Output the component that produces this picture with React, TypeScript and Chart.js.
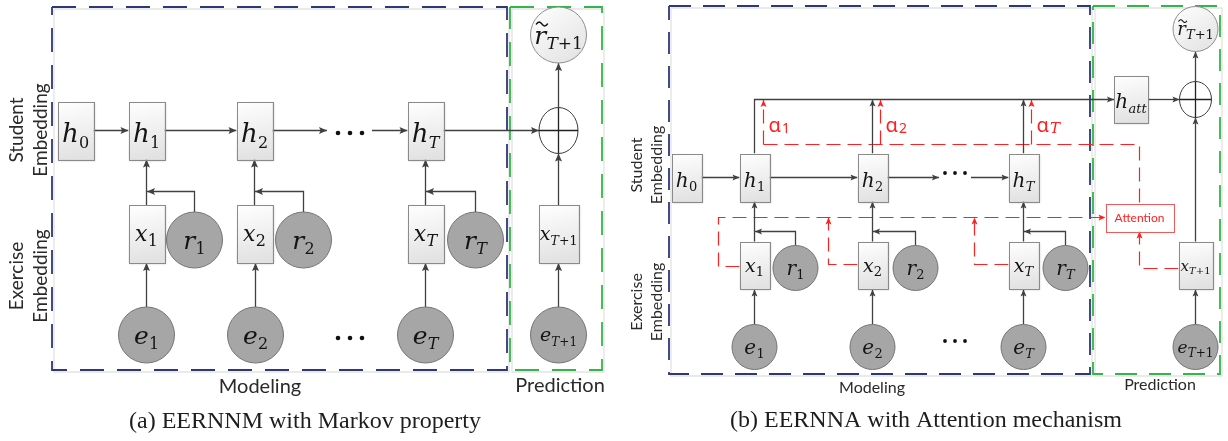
import { useEffect, useRef } from 'react';
import { Chart, registerables } from 'chart.js';

Chart.register(...registerables);

const CW = 1228;
const CH = 441;

// ================= Panel (a) EERNNM : node positions (data units) =================
const aHiddenX = [75.5, 146.5, 254.5, 425.5];
const aHiddenSub = ['0', '1', '2', 'T'];
const aHiddenY = 130.5;
const aExerX = [146.5, 254.5, 425.5, 558.5];
const aExerSub = ['1', '2', 'T', 'T+1'];
const aExerY = 234;
const aRespX = [194.5, 303.5, 475.5];
const aRespSub = ['1', '2', 'T'];
const aRespY = 240;
const aEmbX = [146.5, 255.5, 425.5, 558.5];
const aEmbSub = ['1', '2', 'T', 'T+1'];
const aEmbY = 335;
const aSumXY = [558.5, 130.5];
const aOutXY = [558.5, 35];
const aElbowY = 191.5;
const aDotsX = [338, 350, 362];
const aDotsY = [133, 338];
const aModelFrame = [52, 7, 507, 370];
const aPredFrame = [510, 7, 602, 370];

// ================= Panel (b) EERNNA =================
const bHiddenX = [686.5, 754.5, 872.5, 1023.5];
const bHiddenSub = ['0', '1', '2', 'T'];
const bHiddenY = 177.5;
const bExerX = [754.5, 872.5, 1023.5, 1195.5];
const bExerSub = ['1', '2', 'T', 'T+1'];
const bExerY = 265.5;
const bRespX = [795.5, 915.5, 1065.5];
const bRespSub = ['1', '2', 'T'];
const bRespY = 268;
const bEmbX = [754.5, 872.5, 1023.5, 1195.5];
const bEmbSub = ['1', '2', 'T', 'T+1'];
const bEmbY = 347;
const bSumXY = [1195.5, 99.5];
const bOutXY = [1195.5, 29];
const bAttXY = [1131, 99];
const bAttnXY = [1139.5, 217.5];
const bTopY = 99.5;
const bElbowY = 231.5;
const bAlphaX = [763.5, 880.5, 1031.5];
const bAlphaSub = ['1', '2', 'T'];
const bAlphaY = 144.5;
const bFeedX = [718.5, 828.5, 974.5];
const bFeedY = [266.5, 264.5, 264.5];
const bFeedLastY = 268.5;
const bDotsX = [945, 955, 965];
const bDotsY = [173, 341];
const bModelFrame = [669, 6, 1090, 374];
const bPredFrame = [1093, 6, 1220, 374];

// ================= sizes / styles =================
const GA = { bw: 36, bh: 58, bwLast: 40, r: 28, sumRx: 19.5, sumRy: 23, head: [8, 3.5], dot: 2.3, dash: [24, 13] };
const GB = { bw: 30, bh: 48, bwLast: 34, r: 22.5, sumRx: 16, sumRy: 18, head: [7, 3], dot: 1.9, dash: [22, 12] };
// label font sizes [main, subscript]
const FA = { h: [26, 16], x: [22, 16], xLast: [19, 12.5], r: [25, 16], e: [25, 16], eLast: [19, 12], out: [25, 17] };
const FB = { h: [20, 13], x: [19, 13], xLast: [15, 10], r: [20, 13], e: [20, 13], eLast: [17, 12], out: [18, 13], att: [20, 13] };
const INK = '#404040';
const RED = '#ff2020';
const BLUE = '#2f3876';
const GREEN = '#35b44c';
const MATH = '"DejaVu Serif", "Liberation Serif", serif';
const SANS = 'Lato, "Open Sans", sans-serif';

type Conn = { pts: number[][]; color: string; width: number; dash: number[]; arrow: boolean; head: number[] };
const conns: Conn[] = [];
const solid = (pts: number[][], g: any, arrow = true) => conns.push({ pts, color: INK, width: 1.3, dash: [], arrow, head: g.head });
const red = (pts: number[][], arrow = true) => conns.push({ pts, color: RED, width: 1.2, dash: [14, 7], arrow, head: [7, 3] });

// ---- panel (a) connections
solid([[aHiddenX[0] + GA.bw / 2, aHiddenY], [aHiddenX[1] - GA.bw / 2, aHiddenY]], GA);
solid([[aHiddenX[1] + GA.bw / 2, aHiddenY], [aHiddenX[2] - GA.bw / 2, aHiddenY]], GA);
solid([[aHiddenX[2] + GA.bw / 2, aHiddenY], [aDotsX[0] - 11, aHiddenY]], GA);
solid([[aDotsX[2] + 10, aHiddenY], [aHiddenX[3] - GA.bw / 2, aHiddenY]], GA);
solid([[aHiddenX[3] + GA.bw / 2, aHiddenY], [aSumXY[0] - GA.sumRx, aHiddenY]], GA);
solid([[aSumXY[0], aSumXY[1] - GA.sumRy], [aOutXY[0], aOutXY[1] + GA.r]], GA);
solid([[aExerX[3], aExerY - GA.bh / 2], [aSumXY[0], aSumXY[1] + GA.sumRy]], GA);
for (let i = 0; i < 3; i++) {
  solid([[aExerX[i], aExerY - GA.bh / 2], [aExerX[i], aHiddenY + GA.bh / 2]], GA);
  solid([[aRespX[i], aRespY - GA.r], [aRespX[i], aElbowY], [aExerX[i] + 0.5, aElbowY]], GA);
}
for (let i = 0; i < 4; i++) solid([[aEmbX[i], aEmbY - GA.r], [aEmbX[i], aExerY + GA.bh / 2]], GA);

// ---- panel (b) connections
solid([[bHiddenX[0] + GB.bw / 2, bHiddenY], [bHiddenX[1] - GB.bw / 2, bHiddenY]], GB);
solid([[bHiddenX[1] + GB.bw / 2, bHiddenY], [bHiddenX[2] - GB.bw / 2, bHiddenY]], GB);
solid([[bHiddenX[2] + GB.bw / 2, bHiddenY], [bDotsX[0] - 6, bHiddenY]], GB);
solid([[bDotsX[2] + 6, bHiddenY], [bHiddenX[3] - GB.bw / 2, bHiddenY]], GB);
solid([[bHiddenX[1], bHiddenY - GB.bh / 2], [bHiddenX[1], bTopY], [bAttXY[0] - 17, bTopY]], GB);
solid([[bHiddenX[2], bHiddenY - GB.bh / 2], [bHiddenX[2], bTopY]], GB);
solid([[bHiddenX[3], bHiddenY - GB.bh / 2], [bHiddenX[3], bTopY]], GB);
solid([[bAttXY[0] + 17, bTopY], [bSumXY[0] - GB.sumRx, bTopY]], GB);
solid([[bSumXY[0], bSumXY[1] - GB.sumRy], [bOutXY[0], bOutXY[1] + GB.r]], GB);
solid([[bExerX[3], bExerY - GB.bh / 2], [bSumXY[0], bSumXY[1] + GB.sumRy]], GB);
for (let i = 0; i < 3; i++) {
  solid([[bExerX[i], bExerY - GB.bh / 2], [bExerX[i], bHiddenY + GB.bh / 2]], GB);
  solid([[bRespX[i], bRespY - GB.r], [bRespX[i], bElbowY], [bExerX[i] + 0.5, bElbowY]], GB);
}
for (let i = 0; i < 4; i++) solid([[bEmbX[i], bEmbY - GB.r], [bEmbX[i], bExerY + GB.bh / 2]], GB);

// ---- panel (b) attention (red dashed)
for (let i = 0; i < 3; i++) red([[bAlphaX[i], bAlphaY], [bAlphaX[i], bTopY + 0.5]]);
red([[bAlphaX[0], bAlphaY], [bAttnXY[0], bAlphaY], [bAttnXY[0], bAttnXY[1] - 14]], false);
red([[bExerX[0] - GB.bw / 2, bFeedY[0]], [bFeedX[0], bFeedY[0]], [bFeedX[0], bAttnXY[1]], [bAttnXY[0] - 34, bAttnXY[1]]]);
red([[bExerX[1] - GB.bw / 2, bFeedY[1]], [bFeedX[1], bFeedY[1]], [bFeedX[1], bAttnXY[1]]]);
red([[bExerX[2] - GB.bw / 2, bFeedY[2]], [bFeedX[2], bFeedY[2]], [bFeedX[2], bAttnXY[1]]]);
red([[bExerX[3] - GB.bwLast / 2, bFeedLastY], [bAttnXY[0], bFeedLastY], [bAttnXY[0], bAttnXY[1] + 14]]);

// ================= boxes & labels =================
type BoxN = { x: number; y: number; w: number; h: number; main: string; sub: string; f: number[] };
const boxes: BoxN[] = [];
aHiddenX.forEach((x, i) => boxes.push({ x, y: aHiddenY, w: GA.bw, h: GA.bh, main: 'h', sub: aHiddenSub[i], f: FA.h }));
aExerX.forEach((x, i) => boxes.push({ x, y: aExerY, w: i === 3 ? GA.bwLast : GA.bw, h: GA.bh, main: 'x', sub: aExerSub[i], f: i === 3 ? FA.xLast : FA.x }));
bHiddenX.forEach((x, i) => boxes.push({ x, y: bHiddenY, w: GB.bw, h: GB.bh, main: 'h', sub: bHiddenSub[i], f: FB.h }));
bExerX.forEach((x, i) => boxes.push({ x, y: bExerY, w: i === 3 ? GB.bwLast : GB.bw, h: 47, main: 'x', sub: bExerSub[i], f: i === 3 ? FB.xLast : FB.x }));
boxes.push({ x: bAttXY[0], y: bAttXY[1], w: 34, h: 47, main: 'h', sub: 'att', f: FB.att });

type CircN = { x: number; y: number; r: number; main: string; sub: string; f: number[] };
const circles: CircN[] = [];
aRespX.forEach((x, i) => circles.push({ x, y: aRespY, r: GA.r, main: 'r', sub: aRespSub[i], f: FA.r }));
aEmbX.forEach((x, i) => circles.push({ x, y: aEmbY, r: GA.r, main: 'e', sub: aEmbSub[i], f: i === 3 ? FA.eLast : FA.e }));
bRespX.forEach((x, i) => circles.push({ x, y: bRespY, r: GB.r, main: 'r', sub: bRespSub[i], f: FB.r }));
bEmbX.forEach((x, i) => circles.push({ x, y: bEmbY, r: GB.r, main: 'e', sub: bEmbSub[i], f: i === 3 ? FB.eLast : FB.e }));

const outputs = [
  { x: aOutXY[0], y: aOutXY[1], r: GA.r, f: FA.out },
  { x: bOutXY[0], y: bOutXY[1], r: GB.r, f: FB.out },
];
const sums = [
  { x: aSumXY[0], y: aSumXY[1], rx: GA.sumRx, ry: GA.sumRy },
  { x: bSumXY[0], y: bSumXY[1], rx: GB.sumRx, ry: GB.sumRy },
];
const frames = [
  { f: aModelFrame, color: BLUE, dash: GA.dash },
  { f: aPredFrame, color: GREEN, dash: GA.dash },
  { f: bModelFrame, color: BLUE, dash: GB.dash },
  { f: bPredFrame, color: GREEN, dash: GB.dash },
];
const sideLabels = [
  { lines: ['Student', 'Embedding'], x: 29, y: 130, size: 19, pitch: 24 },
  { lines: ['Exercise', 'Embedding'], x: 29, y: 276, size: 19, pitch: 24 },
  { lines: ['Student', 'Embedding'], x: 647, y: 165, size: 16, pitch: 20 },
  { lines: ['Exercise', 'Embedding'], x: 647, y: 302, size: 16, pitch: 20 },
];
const plainLabels = [
  { text: 'Modeling', x: 260, y: 393, size: 20 },
  { text: 'Prediction', x: 560, y: 392, size: 20 },
  { text: 'Modeling', x: 872, y: 393, size: 16 },
  { text: 'Prediction', x: 1160, y: 390, size: 16 },
];
const captions = [
  { text: '(a) EERNNM with Markov property', x: 305, y: 428 },
  { text: '(b) EERNNA with Attention mechanism', x: 926, y: 427 },
];

// ================= drawing helpers =================
function splitSub(sub: string) {
  const parts: { t: string; it: boolean; w?: number }[] = [];
  for (const ch of sub) {
    const it = /[A-Za-z]/.test(ch);
    const last = parts[parts.length - 1];
    if (last && last.it === it) last.t += ch;
    else parts.push({ t: ch, it });
  }
  return parts;
}

function drawMath(ctx: CanvasRenderingContext2D, cx: number, cy: number, main: string, sub: string, f: number[], tilde = false, color = '#141414') {
  const [size, subSize] = f;
  const asc = main === 'h';
  const base = cy + (asc ? 0.46 : 0.34) * size;
  ctx.save();
  ctx.fillStyle = color;
  ctx.strokeStyle = color;
  ctx.textAlign = 'left';
  ctx.textBaseline = 'alphabetic';
  ctx.font = `italic ${size}px ${MATH}`;
  const mw = ctx.measureText(main).width;
  const parts = splitSub(sub);
  let sw = 0;
  for (const p of parts) {
    ctx.font = `${p.it ? 'italic ' : ''}${subSize}px ${MATH}`;
    p.w = ctx.measureText(p.t).width;
    sw += p.w;
  }
  const gap = size * 0.01;
  let x = cx - (mw + gap + sw) / 2;
  ctx.font = `italic ${size}px ${MATH}`;
  ctx.fillText(main, x, base);
  if (tilde) {
    const tw = size * 0.44;
    const th = size * 0.075;
    const tcx = x + mw * 0.5 + size * 0.07;
    const tcy = base - size * 0.78;
    ctx.beginPath();
    for (let k = 0; k <= 24; k++) {
      const t = k / 24;
      const px = tcx - tw / 2 + t * tw;
      const py = tcy - th * Math.sin(t * Math.PI * 2);
      if (k === 0) ctx.moveTo(px, py);
      else ctx.lineTo(px, py);
    }
    ctx.lineWidth = Math.max(1, size * 0.06);
    ctx.lineCap = 'round';
    ctx.stroke();
  }
  x += mw + gap;
  const sb = base + size * 0.22;
  for (const p of parts) {
    ctx.font = `${p.it ? 'italic ' : ''}${subSize}px ${MATH}`;
    ctx.fillText(p.t, x, sb);
    x += p.w || 0;
  }
  ctx.restore();
}

const diagramPlugin = {
  id: 'diagram',
  afterDatasetsDraw(chart: any) {
    const ctx: CanvasRenderingContext2D = chart.ctx;
    const sx = chart.scales.x;
    const sy = chart.scales.y;
    const X = (v: number) => sx.getPixelForValue(v);
    const Y = (v: number) => sy.getPixelForValue(v);
    ctx.save();

    // arrowheads
    for (const c of conns) {
      if (!c.arrow) continue;
      const n = c.pts.length;
      const [x1, y1] = c.pts[n - 2];
      const [x2, y2] = c.pts[n - 1];
      const px1 = X(x1), py1 = Y(y1), px2 = X(x2), py2 = Y(y2);
      const a = Math.atan2(py2 - py1, px2 - px1);
      const [L, hw] = c.head;
      ctx.beginPath();
      ctx.moveTo(px2, py2);
      ctx.lineTo(px2 - L * Math.cos(a) + hw * Math.sin(a), py2 - L * Math.sin(a) - hw * Math.cos(a));
      ctx.lineTo(px2 - L * 0.8 * Math.cos(a), py2 - L * 0.8 * Math.sin(a));
      ctx.lineTo(px2 - L * Math.cos(a) - hw * Math.sin(a), py2 - L * Math.sin(a) + hw * Math.cos(a));
      ctx.closePath();
      ctx.fillStyle = c.color;
      ctx.fill();
    }

    // boxes
    for (const b of boxes) {
      const l = X(b.x - b.w / 2), t = Y(b.y - b.h / 2);
      const w = X(b.x + b.w / 2) - l, h = Y(b.y + b.h / 2) - t;
      ctx.save();
      ctx.shadowColor = 'rgba(0,0,0,0.18)';
      ctx.shadowBlur = 2;
      ctx.shadowOffsetX = 1;
      ctx.shadowOffsetY = 1;
      const g = ctx.createLinearGradient(l, t, l + w * 0.3, t + h);
      g.addColorStop(0, '#ffffff');
      g.addColorStop(1, '#e2e2e2');
      ctx.fillStyle = g;
      ctx.fillRect(l, t, w, h);
      ctx.restore();
      ctx.strokeStyle = '#8a8a8a';
      ctx.lineWidth = 1;
      ctx.strokeRect(Math.round(l) + 0.5, Math.round(t) + 0.5, Math.round(w), Math.round(h));
      drawMath(ctx, X(b.x), Y(b.y), b.main, b.sub, b.f);
    }

    // attention box
    {
      const l = X(bAttnXY[0] - 34), t = Y(bAttnXY[1] - 14);
      const w = X(bAttnXY[0] + 34) - l, h = Y(bAttnXY[1] + 14) - t;
      ctx.fillStyle = '#ffffff';
      ctx.fillRect(l, t, w, h);
      ctx.strokeStyle = '#f05a5a';
      ctx.lineWidth = 1;
      ctx.strokeRect(Math.round(l) + 0.5, Math.round(t) + 0.5, Math.round(w), Math.round(h));
      ctx.fillStyle = RED;
      ctx.font = `12px ${SANS}`;
      ctx.textAlign = 'center';
      ctx.textBaseline = 'middle';
      ctx.fillText('Attention', X(bAttnXY[0]), Y(bAttnXY[1]) + 0.5);
    }

    // sum nodes (oplus)
    for (const s of sums) {
      const cx = X(s.x), cy = Y(s.y);
      const rx = Math.abs(X(s.x + s.rx) - cx), ry = Math.abs(Y(s.y + s.ry) - cy);
      ctx.beginPath();
      ctx.ellipse(cx, cy, rx, ry, 0, 0, Math.PI * 2);
      ctx.fillStyle = '#ffffff';
      ctx.fill();
      ctx.strokeStyle = '#3a3a3a';
      ctx.lineWidth = 1;
      ctx.stroke();
      ctx.beginPath();
      ctx.moveTo(cx - rx, cy);
      ctx.lineTo(cx + rx, cy);
      ctx.moveTo(cx, cy - ry);
      ctx.lineTo(cx, cy + ry);
      ctx.strokeStyle = '#222';
      ctx.lineWidth = 1.3;
      ctx.stroke();
    }

    // outputs r~_{T+1}
    for (const o of outputs) {
      const cx = X(o.x), cy = Y(o.y);
      const r = Math.abs(X(o.x + o.r) - cx);
      const g = ctx.createLinearGradient(cx - r, cy - r, cx + r * 0.5, cy + r);
      g.addColorStop(0, '#ffffff');
      g.addColorStop(1, '#e4e4e4');
      ctx.beginPath();
      ctx.arc(cx, cy, r, 0, Math.PI * 2);
      ctx.fillStyle = g;
      ctx.fill();
      ctx.strokeStyle = '#8e8e8e';
      ctx.lineWidth = 1;
      ctx.stroke();
      drawMath(ctx, cx, cy, 'r', 'T+1', o.f, true);
    }

    // circle labels
    for (const c of circles) drawMath(ctx, X(c.x), Y(c.y), c.main, c.sub, c.f);

    // alpha labels
    bAlphaX.forEach((ax, i) => {
      const bx = X(ax + 5), by = Y(bAlphaY - 13);
      ctx.fillStyle = RED;
      ctx.textAlign = 'left';
      ctx.textBaseline = 'alphabetic';
      ctx.font = `20px "Noto Sans", "DejaVu Sans", sans-serif`;
      ctx.fillText('\u03b1', bx, by);
      const aw = ctx.measureText('\u03b1').width;
      const s = bAlphaSub[i];
      ctx.font = /[A-Z]/.test(s) ? `italic 15px ${MATH}` : `14px "Noto Sans", sans-serif`;
      ctx.fillText(s, bx + aw + 1, by + 1);
    });

    // side labels (rotated)
    for (const s of sideLabels) {
      ctx.save();
      ctx.translate(X(s.x), Y(s.y));
      ctx.rotate(-Math.PI / 2);
      ctx.font = `${s.size}px ${SANS}`;
      ctx.fillStyle = '#2a2a2a';
      ctx.textAlign = 'center';
      ctx.textBaseline = 'middle';
      s.lines.forEach((l, i) => ctx.fillText(l, 0, (i - (s.lines.length - 1) / 2) * s.pitch));
      ctx.restore();
    }

    // plain labels
    for (const p of plainLabels) {
      ctx.font = `${p.size}px ${SANS}`;
      ctx.fillStyle = '#2a2a2a';
      ctx.textAlign = 'center';
      ctx.textBaseline = 'alphabetic';
      ctx.fillText(p.text, X(p.x), Y(p.y));
    }
    for (const c of captions) {
      ctx.font = `24px "Liberation Serif", "Times New Roman", serif`;
      ctx.fillStyle = '#1e1e1e';
      ctx.textAlign = 'center';
      ctx.textBaseline = 'alphabetic';
      ctx.fillText(c.text, X(c.x), Y(c.y));
    }
    ctx.restore();
  },
};

function rectPts(f: number[], off = 0) {
  const [x0, y0, x1, y1] = f;
  return [
    { x: x0 + off, y: y0 + off },
    { x: x1 + off, y: y0 + off },
    { x: x1 + off, y: y1 + off },
    { x: x0 + off, y: y1 + off },
    { x: x0 + off, y: y0 + off },
  ];
}

function buildDatasets() {
  const lineBase = { showLine: true, pointRadius: 0, pointHoverRadius: 0, fill: false, tension: 0, clip: false as any };
  const ds: any[] = [];
  // gray circles (top)
  ds.push({
    data: circles.map((c) => ({ x: c.x, y: c.y })),
    pointRadius: circles.map((c) => c.r),
    pointHoverRadius: circles.map((c) => c.r),
    backgroundColor: '#a6a6a6',
    borderColor: '#737373',
    borderWidth: 1,
    showLine: false,
    clip: false,
  });
  // ellipsis dots
  const dots: any[] = [];
  const dotR: number[] = [];
  aDotsY.forEach((y) => aDotsX.forEach((x) => { dots.push({ x, y }); dotR.push(GA.dot); }));
  bDotsY.forEach((y) => bDotsX.forEach((x) => { dots.push({ x, y }); dotR.push(GB.dot); }));
  ds.push({ data: dots, pointRadius: dotR, backgroundColor: '#111', borderWidth: 0, showLine: false, clip: false });
  // connectors
  for (const c of conns) {
    ds.push({ ...lineBase, data: c.pts.map(([x, y]) => ({ x, y })), borderColor: c.color, borderWidth: c.width, borderDash: c.dash });
  }
  // frames
  for (const fr of frames) {
    ds.push({ ...lineBase, data: rectPts(fr.f), borderColor: fr.color, borderWidth: 1.8, borderDash: fr.dash });
  }
  for (const fr of frames) {
    ds.push({ ...lineBase, data: rectPts(fr.f, 2), borderColor: '#e4e4e4', borderWidth: 1.4, borderDash: [] });
  }
  return ds;
}

export default function App() {
  const ref = useRef<HTMLCanvasElement>(null);
  useEffect(() => {
    if (!ref.current) return;
    const chart = new Chart(ref.current, {
      type: 'scatter',
      data: { datasets: buildDatasets() },
      options: {
        animation: false,
        responsive: false,
        maintainAspectRatio: false,
        events: [],
        layout: { padding: 0, autoPadding: false },
        plugins: { legend: { display: false }, tooltip: { enabled: false } },
        scales: {
          x: { type: 'linear', min: 0, max: CW, display: false },
          y: { type: 'linear', min: 0, max: CH, reverse: true, display: false },
        },
      },
      plugins: [diagramPlugin],
    } as any);
    return () => chart.destroy();
  }, []);
  return (
    <div style={{ position: 'absolute', left: 0, top: 0, width: CW, height: CH, background: '#ffffff' }}>
      <canvas ref={ref} width={CW} height={CH} style={{ width: CW, height: CH, display: 'block' }} />
    </div>
  );
}
